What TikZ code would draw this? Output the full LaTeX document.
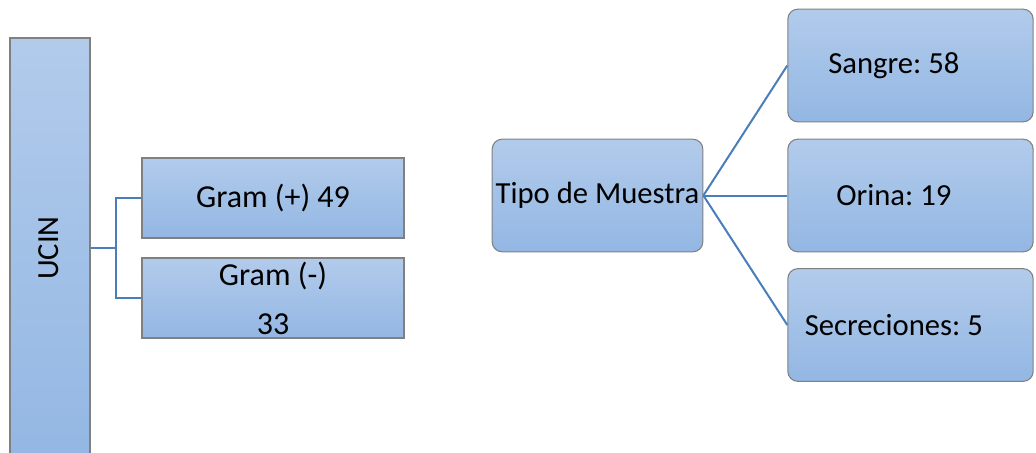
\documentclass[tikz,border=0pt]{standalone}
\usepackage{fontspec}
\setmainfont{Carlito}
\frenchspacing
\definecolor{boxtop}{RGB}{178,203,235}
\definecolor{boxbot}{RGB}{147,183,227}
\definecolor{boxline}{RGB}{128,128,128}
\definecolor{linkblue}{RGB}{74,126,187}
\tikzset{
  box/.style={draw=boxline, line width=0.8pt, top color=boxtop, bottom color=boxbot,
    font=\fontsize{23}{27.6}\selectfont, align=center, inner sep=0pt},
  gbox/.style={box, font=\fontsize{24}{28.8}\selectfont, minimum width=196.5pt, minimum height=60pt},
  roundbox/.style={box, rounded corners=7.5pt, minimum width=184pt, minimum height=84.5pt},
  link/.style={draw=linkblue, line width=1.5pt}
}
\newcommand{\lft}{\hspace*{25pt}}
\begin{document}
\begin{tikzpicture}[x=0.75pt, y=-0.75pt]
		\useasboundingbox (0,0) rectangle (1036,453);
	
		\node[box, minimum width=60pt, minimum height=318pt] (ucin) at (50,250) {};
		\node[rotate=90, font=\fontsize{23}{27.6}\selectfont] (ucintxt) at (49,248) {UCIN};
		\node[gbox] (gpos) at (273,198) {Gram (+) 49};
		\node[gbox] (gneg) at (273,298) {Gram (-)\\[8pt]33};
		
		\coordinate (fork) at (116,248);
		\draw[link] (ucin.east |- fork) -- (fork);
		\draw[link] (gpos.west) -| (fork) |- (gneg.west);
	
		\node[roundbox, minimum width=158pt] (tipo) at (597.5,195.5) {Tipo de Muestra};
		\node[roundbox] (sangre) at (910.5,65.5) {Sangre: 58\lft};
		\node[roundbox] (orina) at (910.5,195.5) {Orina: 19\lft};
		\node[roundbox] (secre) at (910.5,325) {Secreciones: 5\lft};
		
		\draw[link] (tipo.east) -- (sangre.west);
		\draw[link] (tipo.east) -- (orina.west);
		\draw[link] (tipo.east) -- (secre.west);
		\end{tikzpicture}
\end{document}
